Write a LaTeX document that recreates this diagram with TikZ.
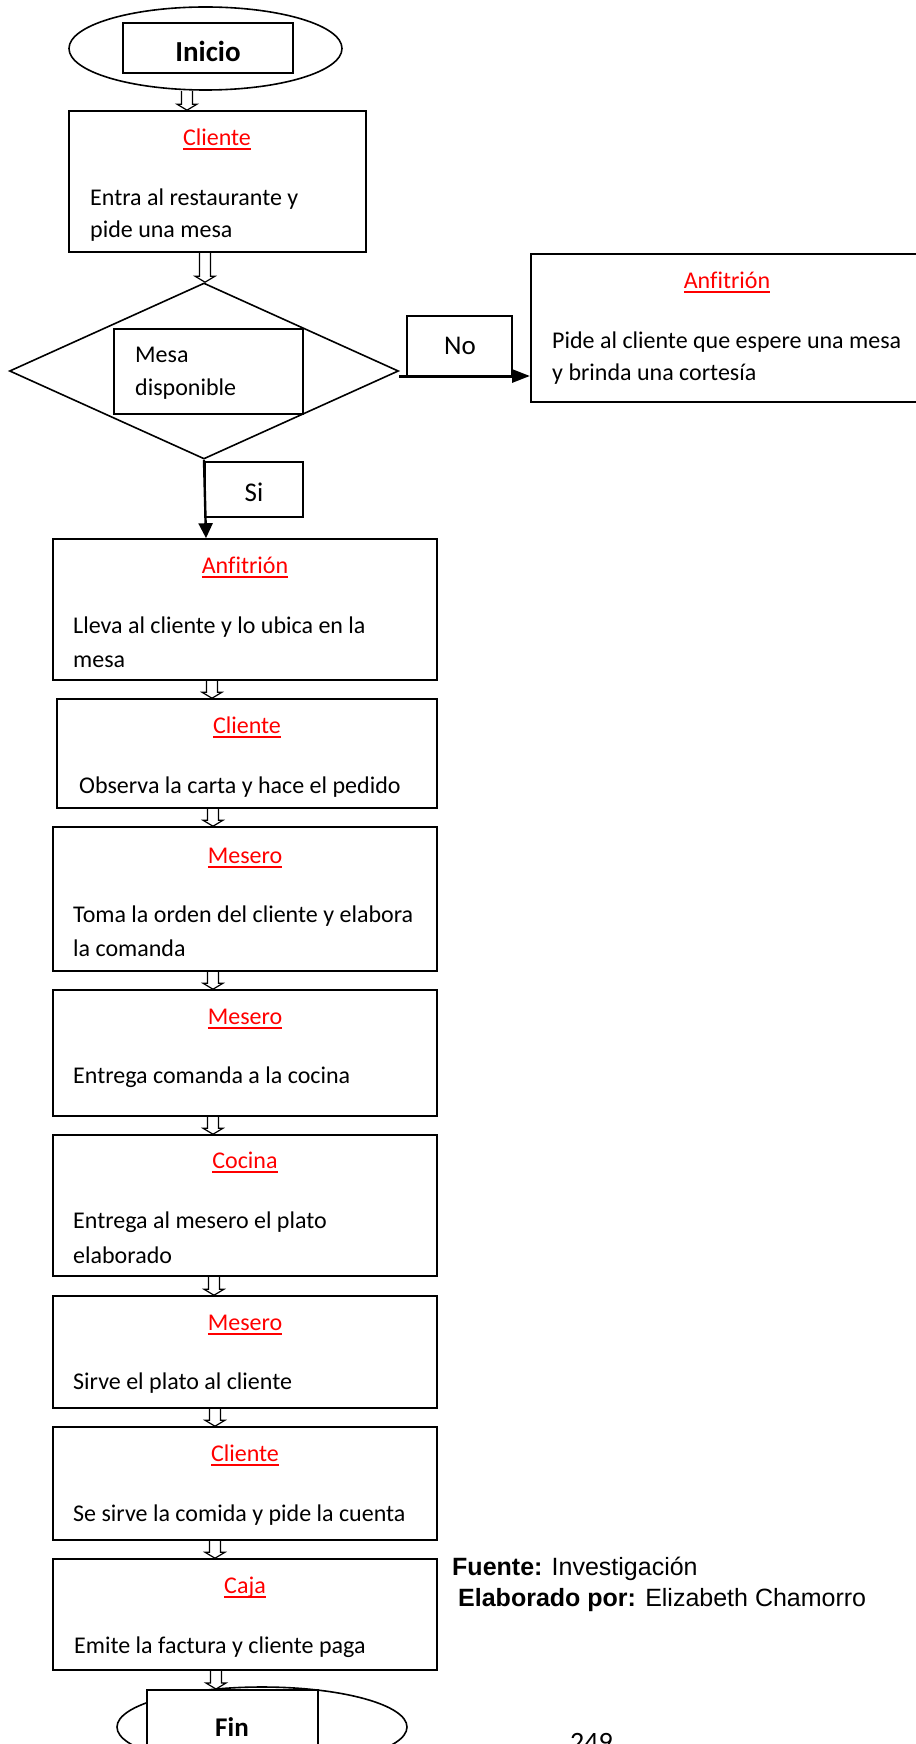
\documentclass[tikz,border=0pt]{standalone}
\usepackage{fontspec}
\setmainfont{Carlito}[Ligatures=NoCommon]
\newfontfamily\arialf{Liberation Sans}
\usetikzlibrary{shapes.geometric,arrows.meta,calc}
\definecolor{labred}{RGB}{255,0,0}
\newcommand{\redul}[1]{\setbox0\hbox{#1}\leavevmode\rlap{\rule[-4.5pt]{\wd0}{2pt}}\box0}
\tikzset{
  bx/.style={draw, line width=1.6pt, rectangle, inner sep=0pt},
  lab/.style={anchor=base, inner sep=0pt, text=labred, font=\fontsize{24}{29}\selectfont},
  body/.style={anchor=base west, inner sep=0pt, font=\fontsize{24}{29}\selectfont},
  big/.style={anchor=base, inner sep=0pt, font=\fontsize{27}{32}\selectfont},
  hollowarr/.style={draw, line width=1.2pt, line join=miter},
  thickarr/.style={line width=3pt, -{Triangle[length=18pt,width=13pt]}},
  siarr/.style={line width=2.4pt, -{Triangle[length=15pt,width=14pt]}}
}
\newcommand{\harrow}[3]{% x, from, to
  \draw[hollowarr] let \p1=(#2), \p2=(#3) in
    (#1-5.5pt,\y1) -- (#1-5.5pt,\y2+6pt) -- (#1-10pt,\y2+6pt) -- (#1,\y2)
    -- (#1+10pt,\y2+6pt) -- (#1+5.5pt,\y2+6pt) -- (#1+5.5pt,\y1);}
\begin{document}
\begin{tikzpicture}[x=1pt,y=-1pt]
\useasboundingbox (0,0) rectangle (915,1744);
% Inicio
\node[ellipse, draw, line width=1.6pt, minimum width=273pt, minimum height=83pt, inner sep=0pt] (ini) at (205.5,48.5) {};
\node[bx, minimum width=170pt, minimum height=50pt, fill=white] (inir) at (208,48) {};
\node[anchor=base, inner sep=0pt, font=\bfseries\fontsize{29}{34}\selectfont] (init) at (208,62) {Inicio};
% Box 1
\node[bx, minimum width=297pt, minimum height=141pt] (b1) at (217.5,181.5) {};
\node[lab] (l1) at (217,146) {\redul{Cliente}};
\node[body] (t1a) at (90,206) {Entra al restaurante y};
\node[body] (t1b) at (90,238) {pide una mesa};
% Diamond
\node[diamond, draw, line width=1.6pt, minimum width=389pt, minimum height=176pt, inner sep=0pt] (dia) at (204,371) {};
\node[bx, minimum width=189pt, minimum height=85pt] (mr) at (208.5,371.5) {};
\node[body] (m1) at (135,362) {Mesa};
\node[body] (m2) at (135,395) {disponible};
% No
\node[bx, minimum width=105pt, minimum height=61pt] (nob) at (459.5,346.5) {};
\node[big] (not) at (460,354) {No};
% Right Anfitrion box (clipped at page edge)
\node[bx, minimum width=400pt, minimum height=148pt, anchor=north west] (rb) at (530,253) {};
\node[lab] (lr) at (727,288) {\redul{Anfitrión}};
\node[body] (tra) at (552,348) {Pide al cliente que espere una mesa};
\node[body] (trb) at (552,380) {y brinda una cortesía};
% Si
\node[bx, minimum width=98pt, minimum height=55pt] (sib) at (254,489.5) {};
\node[big] (sit) at (254,501) {Si};
% Column boxes
\node[bx, minimum width=384pt, minimum height=141pt] (b2) at (245,609.5) {};
\node[lab] (l2) at (245,573) {\redul{Anfitrión}};
\node[body] (t2a) at (73,633) {Lleva al cliente y lo ubica en la};
\node[body] (t2b) at (73,667) {mesa};
\node[bx, minimum width=380pt, minimum height=109pt] (b3) at (247,753.5) {};
\node[lab] (l3) at (247,733) {\redul{Cliente}};
\node[body] (t3a) at (79,793) {Observa la carta y hace el pedido};
\node[bx, minimum width=384pt, minimum height=144pt] (b4) at (245,899) {};
\node[lab] (l4) at (245,863) {\redul{Mesero}};
\node[body] (t4a) at (73,922) {Toma la orden del cliente y elabora};
\node[body] (t4b) at (73,956) {la comanda};
\node[bx, minimum width=384pt, minimum height=126pt] (b5) at (245,1053) {};
\node[lab] (l5) at (245,1024) {\redul{Mesero}};
\node[body] (t5a) at (73,1083) {Entrega comanda a la cocina};
\node[bx, minimum width=384pt, minimum height=141pt] (b6) at (245,1205.5) {};
\node[lab] (l6) at (245,1168) {\redul{Cocina}};
\node[body] (t6a) at (73,1228) {Entrega al mesero el plato};
\node[body] (t6b) at (73,1263) {elaborado};
\node[bx, minimum width=384pt, minimum height=112pt] (b7) at (245,1352) {};
\node[lab] (l7) at (245,1330) {\redul{Mesero}};
\node[body] (t7a) at (73,1389) {Sirve el plato al cliente};
\node[bx, minimum width=384pt, minimum height=113pt] (b8) at (245,1483.5) {};
\node[lab] (l8) at (245,1461) {\redul{Cliente}};
\node[body] (t8a) at (73,1521) {Se sirve la comida y pide la cuenta};
\node[bx, minimum width=384pt, minimum height=111pt] (b9) at (245,1614.5) {};
\node[lab] (l9) at (245,1593) {\redul{Caja}};
\node[body] (t9a) at (74,1653) {Emite la factura y cliente paga};
% Fin
\node[ellipse, draw, line width=1.6pt, minimum width=290pt, minimum height=80pt, inner sep=0pt] (fin) at (262,1727) {};
\node[bx, minimum width=171pt, minimum height=80pt, anchor=north west, fill=white] (finr) at (146,1689) {};
\node[anchor=base, inner sep=0pt, font=\bfseries\fontsize{27}{32}\selectfont] (fint) at (232,1736) {Fin};
% Source
\node[anchor=base west, inner sep=0pt, font=\arialf\fontsize{25}{30}\selectfont] (src1) at (452,1575) {\textbf{Fuente:} Investigación};
\node[anchor=base west, inner sep=0pt, font=\arialf\fontsize{25}{30}\selectfont] (src2) at (458,1606) {\textbf{Elaborado por:} Elizabeth Chamorro};
\node[anchor=base west, inner sep=0pt, font=\fontsize{28}{33}\selectfont] (pg) at (570,1751) {249};
% Connectors
\harrow{187pt}{ini.south}{b1.north}
\harrow{205pt}{b1.south}{dia.north}
\harrow{212pt}{b2.south}{b3.north}
\harrow{213pt}{b3.south}{b4.north}
\harrow{213pt}{b4.south}{b5.north}
\harrow{213pt}{b5.south}{b6.north}
\harrow{214pt}{b6.south}{b7.north}
\harrow{215pt}{b7.south}{b8.north}
\harrow{215pt}{b8.south}{b9.north}
\harrow{216pt}{b9.south}{finr.north}
\draw[thickarr] ([yshift=-5pt]dia.east) -- ([yshift=-5pt]dia.east -| rb.west);
\draw[siarr] (dia.south) -- ([xshift=2pt]dia.south |- b2.north);
\end{tikzpicture}
\end{document}
